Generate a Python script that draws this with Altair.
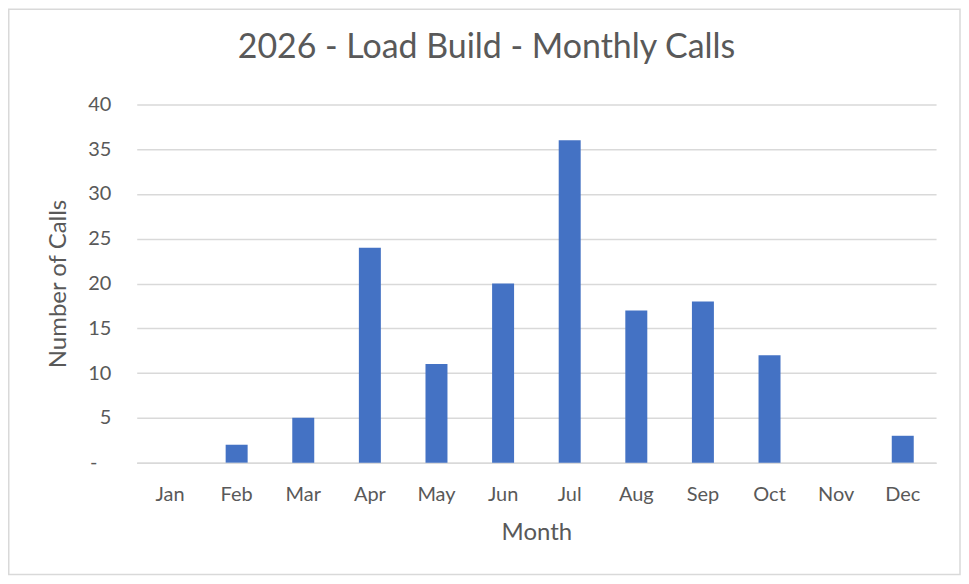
import altair as alt
import pandas as pd

months = ["Jan", "Feb", "Mar", "Apr", "May", "Jun", "Jul", "Aug", "Sep", "Oct", "Nov", "Dec"]
calls = [0, 2, 5, 24, 11, 20, 36, 17, 18, 12, 0, 3]
y_ticks = [0, 5, 10, 15, 20, 25, 30, 35, 40]

df = pd.DataFrame({"Month": months, "Calls": calls})

TEXT = "#595959"
GRID = "#D9D9D9"
FONT = "Lato"

W, H = 801, 359
PL, PT, PR, PB = 129, 96, 25, 113

bars = alt.Chart(df).mark_bar(color="#4472C4").encode(
    x=alt.X("Month:N", sort=months,
            scale=alt.Scale(paddingInner=0.67, paddingOuter=0.335),
            axis=alt.Axis(title="Month", labelAngle=0, ticks=False, domain=True,
                          domainColor=GRID, domainWidth=1.5,
                          labelPadding=22, titlePadding=16)),
    y=alt.Y("Calls:Q", scale=alt.Scale(domain=[0, 40]),
            axis=alt.Axis(title="Number of Calls", values=y_ticks, ticks=False, domain=False,
                          grid=True, gridColor=GRID, gridWidth=1.5,
                          labelExpr="datum.value == 0 ? '-' : datum.label",
                          labelPadding={"condition": {"test": "datum.value == 0", "value": 40}, "value": 26},
                          titlePadding=17)),
)

border = alt.Chart(pd.DataFrame({"a": [0]})).mark_rect(
    fill=None, stroke=GRID, strokeWidth=1.5
).encode(
    x=alt.value(-PL + 0.75), x2=alt.value(W + PR - 1),
    y=alt.value(-PT + 0.75), y2=alt.value(H + PB - 1),
)

chart = alt.layer(border, bars).properties(
    width=W, height=H,
    padding={"left": PL, "top": PT, "right": PR, "bottom": PB},
    autosize=alt.AutoSizeParams(type="none"),
    title=alt.TitleParams("2026 - Load Build - Monthly Calls", fontSize=34, font=FONT,
                          fontWeight="normal", color=TEXT, anchor="middle", frame="group",
                          dx=-50, offset=-57),
    background="white",
).configure_view(stroke=None).configure_axis(
    labelFont=FONT, titleFont=FONT, labelColor=TEXT, titleColor=TEXT,
    labelFontSize=20, titleFontSize=24, titleFontWeight="normal",
)

chart.save("out.html", embed_options={"renderer": "svg", "actions": False})
